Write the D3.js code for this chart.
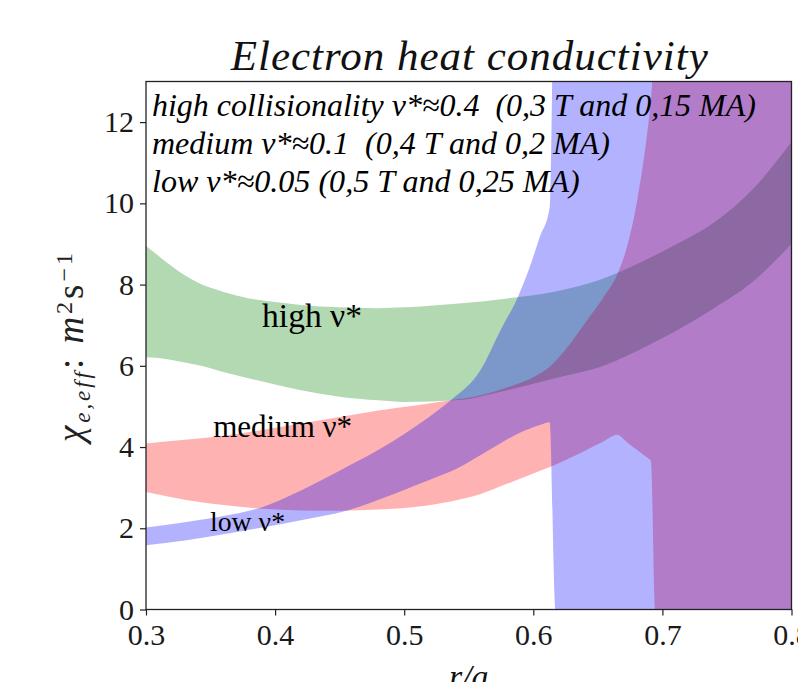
<!DOCTYPE html>
<html>
<head>
<meta charset="utf-8">
<script src="https://cdn.jsdelivr.net/npm/d3@7"></script>
<style>
  html, body { margin: 0; padding: 0; background: #fff; }
  svg { display: block; }
</style>
</head>
<body>
<svg id="chart" width="798" height="682"></svg>
<script>
// Electron heat conductivity bands (chi_e,eff in m^2/s) versus r/a
// for three collisionality regimes.

// high collisionality (green)
const highR  = [0.30, 0.31, 0.32, 0.33, 0.34, 0.36, 0.38, 0.40, 0.42, 0.45, 0.48, 0.50, 0.54, 0.58, 0.62, 0.65, 0.68, 0.71, 0.74, 0.77, 0.80];
const highLo = [6.21, 6.19, 6.14, 6.08, 6.02, 5.85, 5.69, 5.54, 5.40, 5.24, 5.15, 5.11, 5.15, 5.40, 5.72, 5.95, 6.36, 6.85, 7.42, 8.07, 9.00];
const highHi = [8.95, 8.70, 8.45, 8.23, 8.05, 7.82, 7.66, 7.57, 7.50, 7.44, 7.42, 7.44, 7.53, 7.66, 7.85, 8.10, 8.50, 8.98, 9.53, 10.35, 11.51];

// medium collisionality (red)
const mediumR  = [0.30, 0.33, 0.36, 0.39, 0.42, 0.45, 0.48, 0.51, 0.536, 0.56, 0.58, 0.60, 0.6125, 0.625, 0.64, 0.655, 0.665, 0.6725, 0.68, 0.6894, 0.691, 0.6946, 0.80];
const mediumLo = [2.89, 2.70, 2.57, 2.48, 2.44, 2.43, 2.46, 2.53, 2.66, 2.85, 3.10, 3.35, 3.50, 3.68, 3.91, 4.15, 4.30, 4.12, 3.94, 3.71, 3.67, 0.00, 0.00];
const mediumHi = [4.09, 4.18, 4.28, 4.42, 4.58, 4.74, 4.90, 5.03, 5.15, 5.28, 5.47, 5.72, 5.97, 6.40, 7.05, 7.72, 8.25, 8.92, 9.99, 12.04, 12.50, 14.00, 14.00];

// low collisionality (blue)
const lowR  = [0.30, 0.33, 0.36, 0.39, 0.42, 0.456, 0.49, 0.528, 0.536, 0.559, 0.575, 0.588, 0.598, 0.605, 0.6127, 0.6171, 0.80];
const lowLo = [1.58, 1.70, 1.85, 2.02, 2.20, 2.44, 2.82, 3.30, 3.40, 3.80, 4.10, 4.33, 4.46, 4.54, 4.61, 0.00, 0.00];
const lowHi = [2.02, 2.15, 2.30, 2.52, 2.93, 3.52, 4.12, 4.95, 5.15, 5.89, 6.90, 7.69, 8.50, 9.17, 9.90, 17.50, 17.50];

// axes
const xTickValues = [0.3, 0.4, 0.5, 0.6, 0.7, 0.8];
const yTickValues = [0, 2, 4, 6, 8, 10, 12];

// texts
const titleText = "Electron heat conductivity";
const legendLines = [
  "high collisionality v*\u22480.4  (0,3 T and 0,15 MA)",
  "medium v*\u22480.1  (0,4 T and 0,2 MA)",
  "low v*\u22480.05 (0,5 T and 0,25 MA)"
];
const bandNames = ["high \u03bd*", "medium \u03bd*", "low \u03bd*"];

// ---------------------------------------------------------------
const plot = { left: 146, right: 791.5, top: 81.5, bottom: 609.5 };
const serif = "'Liberation Serif', 'Times New Roman', 'DejaVu Serif', serif";

const svg = d3.select("#chart");

const x = d3.scaleLinear().domain([0.3, 0.8]).range([plot.left, plot.right]);
const y = d3.scaleLinear().domain([0, 13]).range([plot.bottom, plot.top]);

svg.append("defs").append("clipPath").attr("id", "plotClip")
  .append("rect")
  .attr("x", plot.left).attr("y", plot.top)
  .attr("width", plot.right - plot.left).attr("height", plot.bottom - plot.top);

const area = d3.area()
  .x(d => x(d.r))
  .y0(d => y(d.lo))
  .y1(d => y(d.hi))
  .curve(d3.curveMonotoneX);

const zipBand = (r, lo, hi) => r.map((v, i) => ({ r: v, lo: lo[i], hi: hi[i] }));

const bands = [
  { data: zipBand(highR, highLo, highHi), color: "rgb(0,128,0)" },
  { data: zipBand(mediumR, mediumLo, mediumHi), color: "rgb(255,0,0)" },
  { data: zipBand(lowR, lowLo, lowHi), color: "rgb(0,0,255)" }
];

const gBands = svg.append("g").attr("clip-path", "url(#plotClip)");
gBands.selectAll("path")
  .data(bands)
  .join("path")
  .attr("d", d => area(d.data))
  .attr("fill", d => d.color)
  .attr("fill-opacity", 0.3)
  .attr("stroke", "none");

// scale a text element's font so it spans the requested width
function fitWidth(sel, width) {
  const size = parseFloat(sel.style("font-size"));
  const w = sel.node().getComputedTextLength();
  if (w > 0) sel.style("font-size", (size * width / w) + "px");
  return sel;
}
// spread a text element's letters so it spans the requested width
function spreadWidth(sel, width) {
  const w = sel.node().getComputedTextLength();
  const n = sel.text().length;
  if (w > 0 && n > 1) sel.style("letter-spacing", Math.max(0, (width - w) / n) + "px");
  return sel;
}

// band labels
const bandLabelPos = [
  { r: 0.3899, v: 6.96, width: 100 },
  { r: 0.352,  v: 4.24, width: 139 },
  { r: 0.3496, v: 1.93, width: 75 }
];
bandNames.forEach((name, i) => {
  const p = bandLabelPos[i];
  const t = svg.append("text")
    .attr("x", x(p.r)).attr("y", y(p.v))
    .style("font-family", serif)
    .style("font-size", "30px")
    .style("white-space", "pre")
    .attr("fill", "#000")
    .text(name);
  fitWidth(t, p.width);
});

// legend lines in upper-left corner
const legendWidths = [604, 458, 428];
legendLines.forEach((line, i) => {
  const t = svg.append("text")
    .attr("x", plot.left + 6)
    .attr("y", 116 + i * 38)
    .style("font-family", serif)
    .style("font-style", "italic")
    .style("font-size", "31px")
    .style("white-space", "pre")
    .attr("fill", "#000")
    .text(line);
  fitWidth(t, legendWidths[i]);
});

// axes
const tickFont = (g) => g.selectAll("text")
  .style("font-family", serif)
  .style("font-size", "30px")
  .attr("fill", "#1a1a1a");

const xAxis = svg.append("g")
  .attr("transform", `translate(0,${plot.bottom})`)
  .call(d3.axisBottom(x).tickValues(xTickValues).tickFormat(d3.format(".1f")).tickSize(6).tickPadding(8));
xAxis.call(tickFont);

const yAxis = svg.append("g")
  .attr("transform", `translate(${plot.left},0)`)
  .call(d3.axisLeft(y).tickValues(yTickValues).tickFormat(d3.format("d")).tickSize(6).tickPadding(6));
yAxis.call(tickFont);

[xAxis, yAxis].forEach(g => {
  g.select(".domain").remove();
  g.selectAll(".tick line").attr("stroke", "#222").attr("stroke-width", 1.2);
});

// frame
svg.append("rect")
  .attr("x", plot.left).attr("y", plot.top)
  .attr("width", plot.right - plot.left).attr("height", plot.bottom - plot.top)
  .attr("fill", "none").attr("stroke", "#222").attr("stroke-width", 1.3);

// title
const title = svg.append("text")
  .attr("x", (plot.left + plot.right) / 2 + 1).attr("y", 70)
  .attr("text-anchor", "middle")
  .style("font-family", serif)
  .style("font-style", "italic")
  .style("font-size", "43px")
  .attr("fill", "#111")
  .text(titleText);
spreadWidth(title, 478);

// x label
svg.append("text")
  .attr("x", (plot.left + plot.right) / 2).attr("y", 688)
  .attr("text-anchor", "middle")
  .style("font-family", serif)
  .style("font-style", "italic")
  .style("font-size", "34px")
  .attr("fill", "#111")
  .text("r/a");

// y label: chi_{e,eff}: m^2 s^-1
const yLabel = svg.append("text")
  .attr("transform", "translate(83,346) rotate(-90)")
  .attr("text-anchor", "middle")
  .style("font-family", serif)
  .style("font-size", "37px")
  .attr("fill", "#222");
yLabel.append("tspan").style("font-style", "italic").text("\u03c7");
yLabel.append("tspan").attr("baseline-shift", "-30%").style("font-size", "62%").style("font-style", "italic").text("e,eff");
yLabel.append("tspan").text(": ");
yLabel.append("tspan").style("font-style", "italic").text("m");
yLabel.append("tspan").attr("baseline-shift", "45%").style("font-size", "65%").text("2");
yLabel.append("tspan").text("s");
yLabel.append("tspan").attr("baseline-shift", "45%").style("font-size", "65%").text("\u22121");
spreadWidth(yLabel, 192);
</script>
</body>
</html>
